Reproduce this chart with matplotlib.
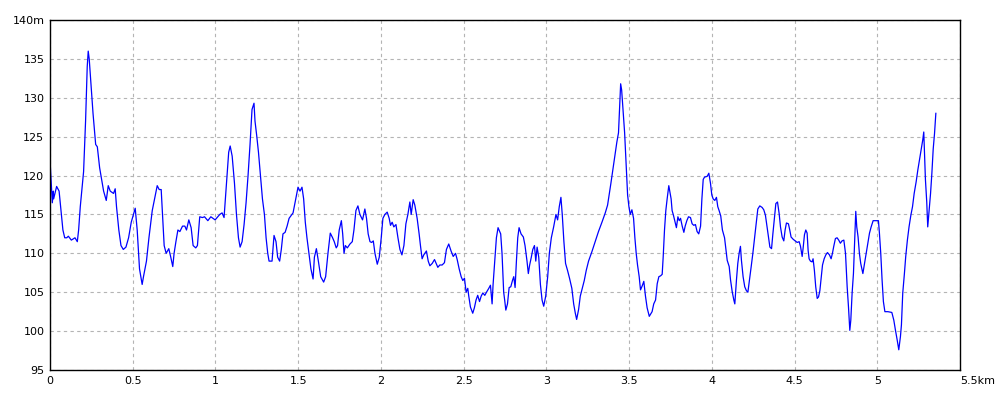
import matplotlib
matplotlib.use('Agg')
import matplotlib.pyplot as plt

# distance along the route (km) and elevation (m)
dist_km = [
    0.000, 0.004, 0.014, 0.020, 0.022, 0.040, 0.055, 0.069, 0.078, 0.089, 0.101, 0.111, 0.129, 0.151, 0.165, 0.173,
    0.183, 0.203, 0.215, 0.225, 0.231, 0.237, 0.247, 0.260, 0.276, 0.286, 0.300, 0.312, 0.324, 0.340, 0.352, 0.364,
    0.384, 0.394, 0.402, 0.416, 0.429, 0.443, 0.459, 0.475, 0.491, 0.515, 0.527, 0.541, 0.557, 0.565, 0.583, 0.598,
    0.618, 0.632, 0.648, 0.660, 0.672, 0.680, 0.690, 0.702, 0.718, 0.730, 0.742, 0.750, 0.761, 0.773, 0.785, 0.801,
    0.815, 0.825, 0.839, 0.853, 0.865, 0.881, 0.891, 0.905, 0.921, 0.934, 0.954, 0.972, 0.998, 1.014, 1.026, 1.040,
    1.052, 1.060, 1.072, 1.080, 1.089, 1.101, 1.115, 1.127, 1.139, 1.149, 1.161, 1.173, 1.185, 1.197, 1.209, 1.221,
    1.233, 1.239, 1.249, 1.260, 1.272, 1.284, 1.296, 1.306, 1.316, 1.324, 1.342, 1.354, 1.366, 1.376, 1.388, 1.398,
    1.408, 1.421, 1.433, 1.445, 1.459, 1.469, 1.481, 1.499, 1.511, 1.523, 1.533, 1.543, 1.553, 1.565, 1.577, 1.590,
    1.598, 1.610, 1.622, 1.636, 1.654, 1.666, 1.680, 1.694, 1.708, 1.718, 1.730, 1.738, 1.748, 1.761, 1.769, 1.777,
    1.785, 1.797, 1.813, 1.827, 1.837, 1.849, 1.861, 1.873, 1.889, 1.903, 1.913, 1.923, 1.934, 1.944, 1.954, 1.964,
    1.978, 1.990, 2.002, 2.012, 2.024, 2.038, 2.050, 2.058, 2.068, 2.078, 2.091, 2.103, 2.115, 2.127, 2.139, 2.151,
    2.163, 2.175, 2.183, 2.195, 2.205, 2.219, 2.231, 2.239, 2.249, 2.259, 2.275, 2.286, 2.296, 2.310, 2.324, 2.334,
    2.344, 2.356, 2.370, 2.384, 2.396, 2.410, 2.424, 2.437, 2.451, 2.461, 2.473, 2.485, 2.495, 2.505, 2.515, 2.525,
    2.531, 2.541, 2.555, 2.565, 2.575, 2.585, 2.596, 2.606, 2.616, 2.628, 2.638, 2.652, 2.662, 2.672, 2.678, 2.688,
    2.698, 2.708, 2.714, 2.724, 2.732, 2.742, 2.748, 2.755, 2.765, 2.775, 2.785, 2.795, 2.803, 2.811, 2.819, 2.827,
    2.835, 2.847, 2.861, 2.871, 2.883, 2.891, 2.899, 2.909, 2.918, 2.928, 2.936, 2.944, 2.954, 2.964, 2.974, 2.984,
    2.996, 3.008, 3.018, 3.030, 3.044, 3.058, 3.068, 3.078, 3.088, 3.096, 3.106, 3.116, 3.128, 3.140, 3.154, 3.165,
    3.175, 3.183, 3.195, 3.205, 3.217, 3.229, 3.241, 3.255, 3.275, 3.295, 3.315, 3.336, 3.356, 3.370, 3.378, 3.390,
    3.402, 3.414, 3.426, 3.436, 3.442, 3.449, 3.455, 3.463, 3.473, 3.483, 3.491, 3.499, 3.507, 3.517, 3.527, 3.535,
    3.543, 3.551, 3.561, 3.569, 3.579, 3.589, 3.599, 3.609, 3.622, 3.639, 3.649, 3.660, 3.670, 3.680, 3.690, 3.700,
    3.706, 3.714, 3.722, 3.730, 3.740, 3.746, 3.754, 3.760, 3.768, 3.778, 3.786, 3.795, 3.803, 3.811, 3.821, 3.831,
    3.839, 3.849, 3.859, 3.871, 3.881, 3.891, 3.901, 3.911, 3.921, 3.932, 3.940, 3.948, 3.956, 3.972, 3.982, 3.992,
    4.000, 4.008, 4.018, 4.028, 4.036, 4.044, 4.054, 4.064, 4.077, 4.085, 4.093, 4.105, 4.113, 4.123, 4.133, 4.139,
    4.149, 4.157, 4.165, 4.173, 4.179, 4.189, 4.199, 4.209, 4.218, 4.228, 4.238, 4.248, 4.258, 4.268, 4.278, 4.290,
    4.304, 4.314, 4.324, 4.334, 4.342, 4.351, 4.361, 4.369, 4.379, 4.387, 4.397, 4.407, 4.415, 4.425, 4.435, 4.443,
    4.451, 4.463, 4.471, 4.479, 4.492, 4.504, 4.516, 4.528, 4.536, 4.546, 4.552, 4.560, 4.568, 4.576, 4.582, 4.588,
    4.596, 4.606, 4.612, 4.620, 4.628, 4.637, 4.645, 4.653, 4.661, 4.669, 4.679, 4.689, 4.699, 4.711, 4.721, 4.729,
    4.737, 4.747, 4.757, 4.767, 4.777, 4.787, 4.798, 4.808, 4.818, 4.826, 4.834, 4.840, 4.848, 4.856, 4.862, 4.870,
    4.876, 4.884, 4.892, 4.900, 4.913, 4.923, 4.933, 4.943, 4.953, 4.963, 4.975, 5.007, 5.013, 5.021, 5.029, 5.037,
    5.046, 5.064, 5.088, 5.100, 5.110, 5.120, 5.130, 5.140, 5.146, 5.154, 5.164, 5.172, 5.182, 5.192, 5.203, 5.213,
    5.223, 5.235, 5.245, 5.255, 5.265, 5.275, 5.281, 5.285, 5.291, 5.299, 5.305, 5.311, 5.322, 5.330, 5.338, 5.346,
    5.354]

elev_m = [
    122.0, 120.5, 116.5, 118.0, 117.0, 118.6, 118.0, 115.0, 113.0, 112.0, 112.0, 112.2, 111.7, 112.0, 111.5, 113.0,
    116.0, 120.5, 127.0, 134.0, 136.0, 135.0, 132.0, 128.0, 124.0, 123.7, 121.0, 119.5, 118.0, 116.8, 118.7, 118.0,
    117.7, 118.3, 116.0, 113.0, 111.0, 110.5, 110.8, 112.0, 114.0, 115.8, 113.0, 108.0, 106.0, 107.0, 109.0, 112.0,
    115.5, 117.0, 118.7, 118.2, 118.2, 115.0, 111.0, 110.0, 110.6, 109.5, 108.3, 110.0, 111.5, 113.0, 112.8, 113.5,
    113.5, 113.0, 114.3, 113.3, 111.0, 110.7, 111.0, 114.7, 114.6, 114.7, 114.2, 114.7, 114.3, 114.7, 115.0, 115.2,
    114.6, 117.0, 120.5, 123.0, 123.8, 122.5, 119.0, 115.0, 112.0, 110.8, 111.5, 113.7, 116.5, 120.0, 124.0, 128.5,
    129.3, 127.0, 125.2, 123.0, 120.0, 117.0, 115.0, 112.0, 110.0, 109.0, 109.0, 112.3, 111.5, 109.5, 109.0, 110.5,
    112.5, 112.7, 113.5, 114.5, 114.9, 115.2, 116.5, 118.5, 118.0, 118.5, 117.0, 114.0, 112.0, 110.0, 108.0, 106.7,
    109.5, 110.6, 109.0, 107.0, 106.3, 107.0, 110.0, 112.6, 112.0, 111.5, 110.7, 111.0, 113.0, 114.2, 112.5, 110.0,
    111.0, 110.7, 111.2, 111.5, 113.0, 115.5, 116.1, 115.0, 114.3, 115.7, 114.5, 112.5, 111.5, 111.4, 111.6, 110.0,
    108.6, 109.5, 112.0, 114.5, 115.0, 115.3, 114.5, 113.6, 114.0, 113.4, 113.7, 112.0, 110.5, 109.8, 111.0, 113.8,
    115.0, 116.6, 115.0, 116.9, 116.2, 114.5, 112.5, 111.0, 109.3, 109.8, 110.3, 109.0, 108.4, 108.7, 109.2, 108.7,
    108.2, 108.5, 108.5, 108.8, 110.5, 111.2, 110.3, 109.6, 110.0, 109.2, 108.0, 107.0, 106.5, 106.8, 105.0, 105.5,
    104.5, 103.1, 102.3, 103.0, 104.0, 104.6, 103.8, 104.5, 104.9, 104.6, 105.0, 105.5, 105.9, 103.5, 106.0, 109.0,
    112.0, 113.3, 113.0, 112.5, 110.0, 105.0, 104.0, 102.7, 103.5, 105.6, 105.7, 106.5, 107.0, 105.6, 109.0, 112.0,
    113.3, 112.5, 112.1, 111.0, 109.0, 107.4, 108.5, 109.5, 110.5, 111.0, 109.0, 110.8, 109.5, 106.0, 104.0, 103.2,
    104.5, 107.0, 110.0, 112.0, 113.4, 115.0, 114.3, 116.0, 117.2, 115.0, 111.5, 108.7, 107.8, 106.8, 105.5, 103.5,
    102.3, 101.5, 102.8, 104.5, 105.5, 106.5, 107.8, 109.0, 110.2, 111.5, 112.8, 114.0, 115.2, 116.2, 117.3, 119.0,
    120.8, 122.5, 124.3, 125.5, 128.5, 131.8, 131.0, 128.5, 125.5, 121.0, 117.5, 116.0, 115.0, 115.6, 114.5, 112.0,
    110.0, 108.5, 107.0, 105.3, 105.8, 106.4, 104.5, 103.0, 101.9, 102.5, 103.5, 104.0, 106.1, 107.0, 107.1, 107.3,
    109.5, 113.0, 115.5, 117.0, 118.7, 118.0, 117.0, 115.5, 114.9, 114.0, 113.3, 114.7, 114.2, 114.5, 113.5, 112.7,
    113.5, 114.2, 114.7, 114.6, 113.8, 113.6, 113.7, 112.8, 112.5, 113.5, 117.0, 119.5, 119.8, 119.9, 120.3, 119.0,
    117.5, 117.0, 116.8, 117.2, 116.0, 115.5, 114.8, 113.0, 112.0, 110.5, 109.1, 108.3, 106.6, 105.1, 104.0, 103.5,
    106.6, 108.7, 110.0, 110.9, 109.1, 107.0, 105.7, 105.2, 105.0, 106.6, 108.3, 110.0, 111.9, 113.9, 115.7, 116.1,
    115.9, 115.6, 114.9, 113.4, 112.1, 110.8, 110.6, 112.5, 114.6, 116.4, 116.6, 115.1, 113.4, 112.1, 111.6, 113.0,
    113.9, 113.8, 113.0, 112.1, 111.8, 111.6, 111.4, 111.5, 110.9, 109.6, 110.7, 112.4, 113.0, 112.6, 110.4, 109.3,
    109.0, 108.9, 109.3, 107.8, 105.7, 104.2, 104.4, 105.2, 106.9, 108.5, 109.3, 109.8, 110.1, 109.8, 109.3, 110.0,
    110.9, 111.9, 112.0, 111.7, 111.3, 111.6, 111.7, 110.0, 105.7, 103.1, 100.1, 101.4, 104.9, 107.4, 110.9, 115.4,
    113.4, 112.1, 110.0, 108.7, 107.4, 108.7, 110.0, 111.3, 112.6, 113.4, 114.2, 114.2, 112.6, 110.0, 106.6, 103.8,
    102.5, 102.5, 102.4, 101.4, 100.1, 98.9, 97.6, 99.3, 100.8, 104.9, 107.4, 109.6, 111.7, 113.4, 114.9, 116.0,
    117.7, 119.2, 120.7, 122.0, 123.3, 124.6, 125.6, 123.3, 119.5, 116.6, 113.4, 114.9, 117.7, 120.3, 123.4, 125.4,
    128.0]

x_ticks = [0, 0.5, 1, 1.5, 2, 2.5, 3, 3.5, 4, 4.5, 5, 5.5]
x_labels = ['0', '0.5', '1', '1.5', '2', '2.5', '3', '3.5', '4', '4.5', '5', '5.5km']
y_ticks = [95, 100, 105, 110, 115, 120, 125, 130, 135, 140]
y_labels = ['95', '100', '105', '110', '115', '120', '125', '130', '135', '140m']

fig = plt.figure(figsize=(10, 4), dpi=100)
ax = fig.add_axes([0.05, 0.075, 0.91, 0.875])

ax.plot(dist_km, elev_m, color='#0000ff', linewidth=0.9)

ax.set_xlim(0, 5.5)
ax.set_ylim(95, 140)
ax.set_xticks(x_ticks)
ax.set_xticklabels(x_labels)
ax.set_yticks(y_ticks)
ax.set_yticklabels(y_labels)
ax.tick_params(length=0, labelsize=8, pad=4, colors='black')
for lab in ax.get_xticklabels()[-1:]:
    lab.set_horizontalalignment('left')
    lab.set_x(5.5)

ax.grid(True, color='#b4b4b4', linestyle=(0, (3, 3)), linewidth=0.8)
for s in ax.spines.values():
    s.set_color('black')
    s.set_linewidth(1.0)

fig.savefig('out.png', dpi=100)
